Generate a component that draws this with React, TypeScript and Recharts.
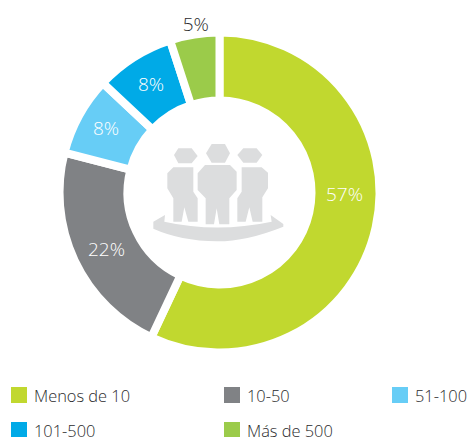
import React from 'react';
import { Cell, Legend, Pie, PieChart } from 'recharts';

const categories = ['Menos de 10', '10-50', '51-100', '101-500', 'Más de 500'];
const shares = [57, 22, 8, 8, 5];
const colors = ['#c1d82f', '#808285', '#67cdf6', '#00aae7', '#9bcb4a'];
const labelColors = ['#ffffff', '#ffffff', '#ffffff', '#ffffff', '#2b2b2d'];

// hand placed in the original, so nudged from the middle of the ring
const labelOffsets = [[2, -26], [1, 3], [-3, -4], [-1, -2], [-4, -44]];
const legendSpots = [[11, 387], [224, 387], [392, 387], [11, 422], [224, 422]];

const rows = categories.map((name, i) => ({ name, value: shares[i] }));
const font = '"Open Sans", sans-serif';
const RAD = Math.PI / 180;

const renderLabel = (props: any) => {
    const { cx, cy, midAngle, index, value } = props;
    const x = cx + 126 * Math.cos(-midAngle * RAD) + labelOffsets[index][0];
    const y = cy + 126 * Math.sin(-midAngle * RAD) + labelOffsets[index][1];
    return (
        <text x={x} y={y} fill={labelColors[index]} textAnchor="middle" dominantBaseline="central" fontFamily={font} fontSize={19} fontWeight={300}>
            {value}%
        </text>
    );
};

const renderLegend = () => (
    <div style={{ position: 'relative', width: 469, height: 437 }}>
        {categories.map((name, i) => (
            <div key={name} style={{ position: 'absolute', left: legendSpots[i][0], top: legendSpots[i][1], display: 'flex', alignItems: 'center', height: 16, whiteSpace: 'nowrap' }}>
                <span style={{ display: 'inline-block', width: 16, height: 16, background: colors[i], marginRight: 7 }} />
                <span style={{ fontFamily: font, fontSize: 16.4, lineHeight: '14px', marginTop: 2, color: '#2b2b2d', fontWeight: 300 }}>{name}</span>
            </div>
        ))}
    </div>
);

const PeopleIcon = () => (
    <svg width={469} height={437} style={{ position: 'absolute', left: 0, top: 0, pointerEvents: 'none' }}>
        <g transform="translate(130 120) scale(0.3333)" fill="#dcddde">
            <polygon points="228,100 245,72 285,72 300,100 285,128 245,128" />
            <polygon points="203,160 225,135 300,135 320,155 320,210 298,235 298,313 268,313 260,265 252,313 227,313 227,235 203,210" />
            <polygon points="132,105 145,85 185,85 203,108 185,130 145,130" />
            <polygon points="112,160 130,142 190,142 190,215 203,235 203,305 175,305 163,262 155,305 130,305 130,235 112,205" />
            <polygon points="322,105 340,85 380,85 397,105 380,128 340,128" />
            <polygon points="335,142 395,142 414,158 414,205 397,232 397,305 368,305 358,262 347,305 322,305 322,235 335,215" />
            <path d="M70,305 L105,285 L103,305 Q260,340 425,305 L422,285 L460,312 L460,320 Q350,364 262,364 Q150,362 70,326 Z" />
        </g>
    </svg>
);

const App: React.FC = () => {
    return (
        <div style={{ position: 'absolute', left: 0, top: 0, width: 469, height: 437, overflow: 'hidden', background: '#fff' }}>
            <PieChart width={469} height={437} margin={{ top: 0, right: 0, bottom: 0, left: 0 }}>
                <Pie
                    data={rows}
                    dataKey="value"
                    nameKey="name"
                    cx={219.5}
                    cy={192.5}
                    innerRadius={92}
                    outerRadius={160}
                    startAngle={90}
                    endAngle={-270}
                    stroke="#ffffff"
                    strokeWidth={8}
                    label={renderLabel}
                    labelLine={false}
                    isAnimationActive={false}
                >
                    {rows.map((row, i) => (
                        <Cell key={row.name} fill={colors[i]} />
                    ))}
                </Pie>
                <Legend content={renderLegend} wrapperStyle={{ position: 'absolute', left: 0, top: 0, bottom: 'auto', width: 469, height: 437 }} />
            </PieChart>
            <PeopleIcon />
        </div>
    );
};

export default App;
